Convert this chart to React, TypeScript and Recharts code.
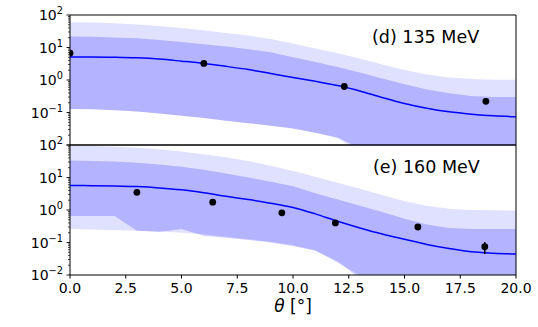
import React from "react"
import {
  ComposedChart,
  Area,
  Line,
  Scatter,
  ErrorBar,
  XAxis,
  YAxis,
  ReferenceArea,
} from "recharts"

// angle grid (deg) on which the bands / curve are sampled
const theta = [0, 1, 2, 3, 4, 5, 6, 7, 8, 9, 10, 11, 12, 13, 14, 15, 16, 17, 18, 19, 20]

// (d) 135 MeV
const dLine = [5.1, 5.1, 5.0, 4.8, 4.4, 3.8, 3.24, 2.63, 2.09, 1.58, 1.2, 0.91, 0.68, 0.46, 0.29, 0.19, 0.135, 0.105, 0.089, 0.079, 0.074]
const dInnerHi = [21.9, 21.4, 20.4, 19.1, 17, 14.8, 12.6, 10.7, 8.9, 7.1, 5.0, 3.55, 2.5, 1.7, 1.12, 0.74, 0.51, 0.39, 0.32, 0.3, 0.3]
const dInnerLo = [0.129, 0.126, 0.117, 0.107, 0.093, 0.079, 0.068, 0.056, 0.047, 0.039, 0.032, 0.024, 0.017, 0.0079, 0.0032, 0.0016, 0.001, 0.001, 0.001, 0.001, 0.001]
const dOuterHi = [60, 59, 56, 51, 46, 40, 34, 28, 23.4, 18.2, 13.2, 9.3, 6.6, 4.6, 3.0, 2.04, 1.48, 1.2, 1.07, 1.02, 1.01]
const dOuterLo = [0.129, 0.126, 0.117, 0.107, 0.093, 0.079, 0.068, 0.056, 0.047, 0.039, 0.032, 0.024, 0.016, 0.006, 0.002, 0.001, 0.001, 0.001, 0.001, 0.001, 0.001]
const dPtTheta = [0, 6.0, 12.3, 18.65]
const dPtVal = [6.7, 3.24, 0.63, 0.22]
const dPtErr = [0.5, 0.25, 0.05, 0.02]

// (e) 160 MeV
const eLine = [5.69, 5.62, 5.5, 5.25, 4.79, 4.17, 3.39, 2.63, 2.09, 1.62, 1.2, 0.76, 0.45, 0.28, 0.182, 0.126, 0.087, 0.065, 0.052, 0.047, 0.044]
const eInnerHi = [33.1, 32.4, 30.9, 28.2, 25.1, 21.4, 17.4, 13.2, 10, 7.4, 5.4, 3.3, 2.1, 1.35, 0.87, 0.54, 0.36, 0.28, 0.26, 0.26, 0.26]
const eInnerLo = [0.65, 0.65, 0.65, 0.23, 0.21, 0.26, 0.16, 0.14, 0.12, 0.1, 0.078, 0.056, 0.026, 0.0079, 0.0025, 0.001, 0.001, 0.001, 0.001, 0.001, 0.001]
const eOuterHi = [95, 93, 89, 83, 74, 63, 52, 42, 32, 23, 15.8, 10.5, 6.9, 4.5, 2.9, 1.86, 1.35, 1.1, 1.0, 0.98, 0.97]
const eOuterLo = [0.26, 0.25, 0.24, 0.23, 0.22, 0.2, 0.18, 0.15, 0.126, 0.105, 0.083, 0.058, 0.024, 0.01, 0.004, 0.002, 0.001, 0.001, 0.001, 0.001, 0.001]
const ePtTheta = [3.0, 6.4, 9.5, 11.9, 15.6, 18.6]
const ePtVal = [3.5, 1.74, 0.82, 0.4, 0.3, 0.074]
const ePtErr = [0.3, 0.15, 0.08, 0.04, 0.03, 0.03]

const xTicks = [0, 2.5, 5, 7.5, 10, 12.5, 15, 17.5, 20]
const majorY = [0.01, 0.1, 1, 10, 100]
const minorMult = [2, 3, 4, 5, 6, 7, 8, 9]
const yTicks = [
  ...majorY,
  ...majorY.slice(0, 4).flatMap((d) => minorMult.map((m) => +(m * d).toPrecision(3))),
]

const PLOT_LEFT = 70
const FONT = "'DejaVu Sans', sans-serif"
const BLUE = "#0000ff"

const buildRows = (line: number[], iLo: number[], iHi: number[], oLo: number[], oHi: number[]) =>
  theta.map((t, i) => ({ theta: t, line: line[i], inner: [iLo[i], iHi[i]], outer: [oLo[i], oHi[i]] }))

const buildPts = (th: number[], val: number[], err: number[]) =>
  th.map((t, i) => ({ theta: t, val: val[i], err: err[i] }))

const LogTick = (props: any) => {
  const { y, payload, hide } = props
  const lg = Math.log10(payload.value)
  const exp = Math.round(lg)
  const major = Math.abs(lg - exp) < 1e-6
  const len = major ? 3.5 : 2
  return (
    <g>
      <line x1={PLOT_LEFT - len} x2={PLOT_LEFT} y1={y} y2={y} stroke="#000" strokeWidth={major ? 0.9 : 0.7} />
      {major && !hide.includes(exp) && (
        <text x={PLOT_LEFT - 7} y={y + 5} textAnchor="end" fontSize={14} fontFamily={FONT} fill="#000">
          10
          <tspan dy={-6} fontSize={9.8}>
            {exp < 0 ? "\u2212" + Math.abs(exp) : String(exp)}
          </tspan>
        </text>
      )}
    </g>
  )
}

const Dot = (p: any) => <circle cx={p.cx} cy={p.cy} r={3.4} fill="#000" />

function Panel({ rows, pts, height, showX, hide }: any) {
  return (
    <ComposedChart
      width={538}
      height={height}
      data={rows}
      margin={{ top: 15, right: 22, bottom: showX ? 0 : 5, left: 10 }}
    >
      <XAxis
        dataKey="theta"
        type="number"
        domain={[0, 20]}
        allowDataOverflow
        ticks={xTicks}
        interval={0}
        hide={!showX}
        height={52}
        tickFormatter={(v: number) => v.toFixed(1)}
        tick={{ fontSize: 14, fill: "#000", fontFamily: FONT }}
        tickSize={3.5}
        tickMargin={5}
        tickLine={{ stroke: "#000" }}
        axisLine={false}
      />
      <YAxis
        type="number"
        scale="log"
        domain={[0.01, 100]}
        allowDataOverflow
        ticks={yTicks}
        interval={0}
        width={60}
        axisLine={false}
        tickLine={false}
        tick={(p: any) => <LogTick {...p} hide={hide} />}
      />
      <Area
        type="linear"
        dataKey="outer"
        stroke="none"
        fill={BLUE}
        fillOpacity={0.12}
        isAnimationActive={false}
        activeDot={false}
      />
      <Area
        type="linear"
        dataKey="inner"
        stroke="none"
        fill={BLUE}
        fillOpacity={0.2}
        isAnimationActive={false}
        activeDot={false}
      />
      <Line
        type="monotone"
        dataKey="line"
        stroke={BLUE}
        strokeWidth={1.5}
        dot={false}
        activeDot={false}
        isAnimationActive={false}
      />
      <Scatter data={pts} dataKey="val" shape={Dot} isAnimationActive={false}>
        <ErrorBar dataKey="err" direction="y" width={0} stroke="#000" strokeWidth={1.5} />
      </Scatter>
      <ReferenceArea x1={0} x2={20} y1={0.01} y2={100} fill="none" stroke="#000" strokeWidth={1} />
    </ComposedChart>
  )
}

export default function App() {
  const dRows = buildRows(dLine, dInnerLo, dInnerHi, dOuterLo, dOuterHi)
  const eRows = buildRows(eLine, eInnerLo, eInnerHi, eOuterLo, eOuterHi)
  const dPts = buildPts(dPtTheta, dPtVal, dPtErr)
  const ePts = buildPts(ePtTheta, ePtVal, ePtErr)

  const note = { position: "absolute" as const, fontSize: 17.5, lineHeight: 1, whiteSpace: "nowrap" as const, fontFamily: FONT }

  return (
    <div style={{ position: "absolute", left: 0, top: 0, width: 538, height: 327, background: "#fff", fontFamily: FONT }}>
      <div style={{ position: "absolute", left: 0, top: 130 }}>
        <Panel rows={eRows} pts={ePts} height={197} showX hide={[]} />
      </div>
      <div style={{ position: "absolute", left: 0, top: 0 }}>
        <Panel rows={dRows} pts={dPts} height={150} showX={false} hide={[-2]} />
      </div>
      <div style={{ ...note, left: 372, top: 28.5 }}>(d) 135 MeV</div>
      <div style={{ ...note, left: 373, top: 158.5 }}>(e) 160 MeV</div>
      <div style={{ position: "absolute", left: 243, width: 100, top: 298, textAlign: "center", fontSize: 17, lineHeight: 1, fontFamily: FONT }}>
        <i>θ</i> [°]
      </div>
    </div>
  )
}
